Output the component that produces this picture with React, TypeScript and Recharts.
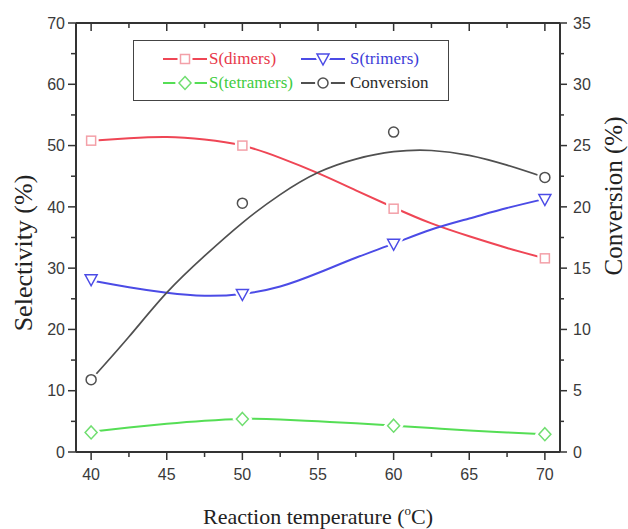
import React from 'react';
import { ComposedChart, Line, Scatter, XAxis, YAxis, Legend } from 'recharts';

// measured points
const temperatures = [40, 50, 60, 70];
const dimersMeasured = [50.8, 50.0, 39.7, 31.6];
const trimersMeasured = [28.1, 25.7, 33.9, 41.2];
const tetramersMeasured = [3.2, 5.4, 4.3, 2.9];
const conversionMeasured = [5.9, 20.3, 26.1, 22.4];

// fitted curves
const fitTemperatures = [40, 42.5, 45, 47.5, 50, 52.5, 55, 57.5, 60, 62.5, 65, 67.5, 70];
const dimersFit = [50.8, 51.2, 51.4, 51.0, 50.0, 48.0, 45.5, 42.7, 39.9, 37.3, 35.2, 33.3, 31.6];
const trimersFit = [28.0, 26.9, 26.0, 25.5, 25.8, 27.0, 29.2, 31.7, 34.0, 36.3, 38.1, 39.8, 41.3];
const tetramersFit = [3.3, 4.0, 4.6, 5.1, 5.4, 5.3, 5.0, 4.7, 4.3, 3.9, 3.5, 3.2, 2.9];
const conversionFit = [5.9, 9.4, 13.0, 16.0, 18.7, 21.0, 22.8, 23.9, 24.5, 24.6, 24.2, 23.4, 22.4];

// ticks
const xTicks = [40, 42.5, 45, 47.5, 50, 52.5, 55, 57.5, 60, 62.5, 65, 67.5, 70];
const leftTicks = [0, 5, 10, 15, 20, 25, 30, 35, 40, 45, 50, 55, 60, 65, 70];
const rightTicks = [0, 2.5, 5, 7.5, 10, 12.5, 15, 17.5, 20, 22.5, 25, 27.5, 30, 32.5, 35];

const pts = (xs: number[], ys: number[]) => xs.map((x, i) => ({ x, y: ys[i] }));

const AXIS = '#333';
const TICK_FONT = "'Liberation Sans', Arial, sans-serif";
const SERIF = "'Liberation Serif', 'Times New Roman', serif";

const C = {
  dimers: '#ef4655',
  dimersMarker: '#f3a0a8',
  trimers: '#4b4be6',
  tetramers: '#55de55',
  tetramersMarker: '#70de70',
  conversion: '#505050',
};

function BottomTick(props: any) {
  const { x, y, payload } = props;
  const v = payload.value;
  const major = v % 5 === 0;
  return (
    <g>
      <line x1={x} x2={x} y1={y} y2={y + (major ? 8 : 5)} stroke={AXIS} strokeWidth={1.5} />
      {major && (
        <text x={x} y={y + 28} textAnchor="middle" fontFamily={TICK_FONT} fontSize={16} fill="#3a3a3a">
          {v}
        </text>
      )}
    </g>
  );
}

function TopTick(props: any) {
  const { x, y, payload } = props;
  const major = payload.value % 5 === 0;
  return <line x1={x} x2={x} y1={y} y2={y + (major ? 8 : 5)} stroke={AXIS} strokeWidth={1.5} />;
}

function LeftTick(props: any) {
  const { x, y, payload } = props;
  const v = payload.value;
  const major = v % 10 === 0;
  return (
    <g>
      <line x1={x} x2={x - (major ? 8 : 5)} y1={y} y2={y} stroke={AXIS} strokeWidth={1.5} />
      {major && (
        <text x={x - 11} y={y + 5.7} textAnchor="end" fontFamily={TICK_FONT} fontSize={16} fill="#3a3a3a">
          {v}
        </text>
      )}
    </g>
  );
}

function RightTick(props: any) {
  const { x, y, payload } = props;
  const v = payload.value;
  const major = v % 5 === 0;
  return (
    <g>
      <line x1={x} x2={x + (major ? 7 : 4)} y1={y} y2={y} stroke={AXIS} strokeWidth={1.5} />
      {major && (
        <text x={x + 13} y={y + 5.7} textAnchor="start" fontFamily={TICK_FONT} fontSize={16} fill="#3a3a3a">
          {v}
        </text>
      )}
    </g>
  );
}

function Marker(props: any) {
  const { cx, cy, kind, color } = props;
  if (cx == null || cy == null) return null;
  const mk = (extra: any) => {
    if (kind === 'square') return <rect x={cx - 4.5} y={cy - 4.5} width={9} height={9} {...extra} />;
    if (kind === 'circle') return <circle cx={cx} cy={cy} r={5} {...extra} />;
    if (kind === 'triangle')
      return <polygon points={`${cx - 6},${cy - 5} ${cx + 6},${cy - 5} ${cx},${cy + 6}`} {...extra} />;
    return <polygon points={`${cx},${cy - 6.5} ${cx + 6},${cy} ${cx},${cy + 6.5} ${cx - 6},${cy}`} {...extra} />;
  };
  return (
    <g>
      {mk({ fill: '#fff', stroke: '#fff', strokeWidth: 6 })}
      {mk({ fill: '#fff', stroke: color, strokeWidth: 1.5 })}
    </g>
  );
}

const legendItems = [
  { name: 'S(dimers)', line: C.dimers, marker: C.dimersMarker, kind: 'square', text: '#e8384a', col: 0, row: 0 },
  { name: 'S(trimers)', line: C.trimers, marker: C.trimers, kind: 'triangle', text: '#3c3cd8', col: 1, row: 0 },
  { name: 'S(tetramers)', line: C.tetramers, marker: C.tetramersMarker, kind: 'diamond', text: '#3fcc3f', col: 0, row: 1 },
  { name: 'Conversion', line: C.conversion, marker: C.conversion, kind: 'circle', text: '#2a2a2a', col: 1, row: 1 },
];

function LegendBox() {
  return (
    <div
      style={{
        position: 'relative',
        width: 316,
        height: 61,
        border: '1.5px solid #444',
        boxSizing: 'border-box',
        background: '#fff',
      }}
    >
      {legendItems.map((it) => {
        const left = it.col === 0 ? 29 : 167;
        const top = it.row === 0 ? 18 : 42;
        return (
          <div
            key={it.name}
            style={{ position: 'absolute', left, top: top - 11, height: 22, display: 'flex', alignItems: 'center' }}
          >
            <svg width={44} height={22} style={{ display: 'block' }}>
              <line x1={0} x2={44} y1={11} y2={11} stroke={it.line} strokeWidth={1.8} />
              <Marker cx={22} cy={11} kind={it.kind} color={it.marker} />
            </svg>
            <span
              style={{
                fontFamily: SERIF,
                fontSize: 17,
                color: it.text,
                marginLeft: it.col === 0 ? 2 : 5,
                whiteSpace: 'nowrap',
                lineHeight: '22px',
              }}
            >
              {it.name}
            </span>
          </div>
        );
      })}
    </div>
  );
}

const XTitle = (p: any) => {
  const vb = p.viewBox || {};
  const cx = vb.x + vb.width / 2;
  return (
    <text x={cx} y={vb.y + 72} textAnchor="middle" fontFamily={SERIF} fontSize={22} fill="#222">
      Reaction temperature (
      <tspan fontSize={13} dy={-9}>
        o
      </tspan>
      <tspan dy={9}>C)</tspan>
    </text>
  );
};

const LeftTitle = (p: any) => {
  const vb = p.viewBox || {};
  const x = vb.x + 23;
  const y = vb.y + 230;
  return (
    <text
      x={x}
      y={y}
      transform={`rotate(-90, ${x}, ${y})`}
      textAnchor="middle"
      dominantBaseline="central"
      fontFamily={SERIF}
      fontSize={26}
      fill="#222"
    >
      Selectivity (%)
    </text>
  );
};

const RightTitle = (p: any) => {
  const vb = p.viewBox || {};
  const x = vb.x + 53;
  const y = vb.y + 173;
  return (
    <text
      x={x}
      y={y}
      transform={`rotate(-90, ${x}, ${y})`}
      textAnchor="middle"
      dominantBaseline="central"
      fontFamily={SERIF}
      fontSize={25}
      fill="#222"
    >
      Conversion (%)
    </text>
  );
};

export default function App() {
  const axisLine = { stroke: AXIS, strokeWidth: 2 };
  return (
    <div style={{ position: 'absolute', left: 0, top: 0, width: 628, height: 529, background: '#fff' }}>
      <ComposedChart width={628} height={529} margin={{ top: 23, right: 0, bottom: 0, left: 0 }}>
        <XAxis
          xAxisId="bottom"
          dataKey="x"
          type="number"
          domain={[39, 71]}
          ticks={xTicks}
          interval={0}
          height={77}
          tickSize={0}
          tickMargin={0}
          tickLine={false}
          tick={<BottomTick />}
          axisLine={axisLine}
          allowDataOverflow
          label={XTitle}
        />
        <XAxis
          xAxisId="top"
          orientation="top"
          mirror
          dataKey="x"
          type="number"
          domain={[39, 71]}
          ticks={xTicks}
          interval={0}
          tickSize={0}
          tickMargin={0}
          tickLine={false}
          tick={<TopTick />}
          axisLine={axisLine}
          allowDataOverflow
        />
        <YAxis
          yAxisId="left"
          dataKey="y"
          type="number"
          domain={[0, 70]}
          ticks={leftTicks}
          interval={0}
          width={76}
          tickSize={0}
          tickMargin={0}
          tickLine={false}
          tick={<LeftTick />}
          axisLine={axisLine}
          allowDataOverflow
          label={LeftTitle}
        />
        <YAxis
          yAxisId="right"
          orientation="right"
          dataKey="y"
          type="number"
          domain={[0, 35]}
          ticks={rightTicks}
          interval={0}
          width={68}
          tickSize={0}
          tickMargin={0}
          tickLine={false}
          tick={<RightTick />}
          axisLine={axisLine}
          allowDataOverflow
          label={RightTitle}
        />

        <Line xAxisId="bottom" yAxisId="left" data={pts(fitTemperatures, dimersFit)} dataKey="y" type="natural"
          stroke={C.dimers} strokeWidth={2} dot={false} activeDot={false} isAnimationActive={false} />
        <Line xAxisId="bottom" yAxisId="left" data={pts(fitTemperatures, trimersFit)} dataKey="y" type="natural"
          stroke={C.trimers} strokeWidth={2} dot={false} activeDot={false} isAnimationActive={false} />
        <Line xAxisId="bottom" yAxisId="left" data={pts(fitTemperatures, tetramersFit)} dataKey="y" type="natural"
          stroke={C.tetramers} strokeWidth={2} dot={false} activeDot={false} isAnimationActive={false} />
        <Line xAxisId="bottom" yAxisId="right" data={pts(fitTemperatures, conversionFit)} dataKey="y" type="natural"
          stroke={C.conversion} strokeWidth={1.7} dot={false} activeDot={false} isAnimationActive={false} />

        <Scatter xAxisId="bottom" yAxisId="left" data={pts(temperatures, dimersMeasured)} isAnimationActive={false}
          shape={(p: any) => <Marker cx={p.cx} cy={p.cy} kind="square" color={C.dimersMarker} />} />
        <Scatter xAxisId="bottom" yAxisId="left" data={pts(temperatures, trimersMeasured)} isAnimationActive={false}
          shape={(p: any) => <Marker cx={p.cx} cy={p.cy} kind="triangle" color={C.trimers} />} />
        <Scatter xAxisId="bottom" yAxisId="left" data={pts(temperatures, tetramersMeasured)} isAnimationActive={false}
          shape={(p: any) => <Marker cx={p.cx} cy={p.cy} kind="diamond" color={C.tetramersMarker} />} />
        <Scatter xAxisId="bottom" yAxisId="right" data={pts(temperatures, conversionMeasured)} isAnimationActive={false}
          shape={(p: any) => <Marker cx={p.cx} cy={p.cy} kind="circle" color={C.conversion} />} />

        <Legend
          layout="vertical"
          align="center"
          verticalAlign="middle"
          content={() => <LegendBox />}
          wrapperStyle={{ position: 'absolute', left: 133, top: 40, width: 316, height: 61, right: 'auto', bottom: 'auto' }}
        />
      </ComposedChart>
    </div>
  );
}
